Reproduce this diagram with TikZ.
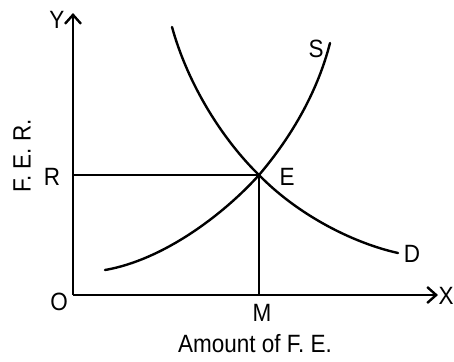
\documentclass[tikz,border=0pt]{standalone}
\usepackage{fontspec}
\setmainfont[FakeStretch=0.9]{Liberation Sans}
\usetikzlibrary{arrows.meta}

\begin{document}
\begin{tikzpicture}[x=0.5pt,y=0.5pt,line width=1.2pt,
  lbl/.style={inner sep=0pt,font=\fontsize{12.5}{14}\selectfont},
  axis/.style={-{Straight Barb[length=4.5pt,width=8pt]}},
  curve/.style={line cap=round}]
\useasboundingbox (-73,-66) rectangle (381,295);

\coordinate (O) at (0,0);
\coordinate (Ytip) at (0,282);
\coordinate (Xtip) at (365,0);
\coordinate (E) at (186,120);
\coordinate (M) at (186,0);
\coordinate (R) at (0,120);

% axes
\draw[axis] (O) -- (Ytip);
\draw[axis] (O) -- (Xtip);

% equilibrium lines
\draw (R) -- (E);
\draw (E) -- (M);

% demand curve
\draw[curve] (99,268) .. controls (115,210) and (150,155) .. (E)
  .. controls (225,80) and (280,52) .. (325,42);
% supply curve
\draw[curve] (32,25) .. controls (90,35) and (150,80) .. (E)
  .. controls (220,160) and (245,205) .. (257,252);

% labels
\node[lbl] (ylab) at (-16,275) {Y};
\node[lbl] (olab) at (-14,-7) {O};
\node[lbl] (xlab) at (373,-1) {X};
\node[lbl] (mlab) at (189,-18) {M};
\node[lbl] (rlab) at (-21,118) {R};
\node[lbl] (elab) at (214,118) {E};
\node[lbl] (slab) at (243,246) {S};
\node[lbl] (dlab) at (339,41) {D};
\node[lbl] (xtitle) at (182,-49) {Amount of F. E.};
\node[lbl,rotate=90] (ytitle) at (-51,139) {F. E. R.};
\end{tikzpicture}
\end{document}
